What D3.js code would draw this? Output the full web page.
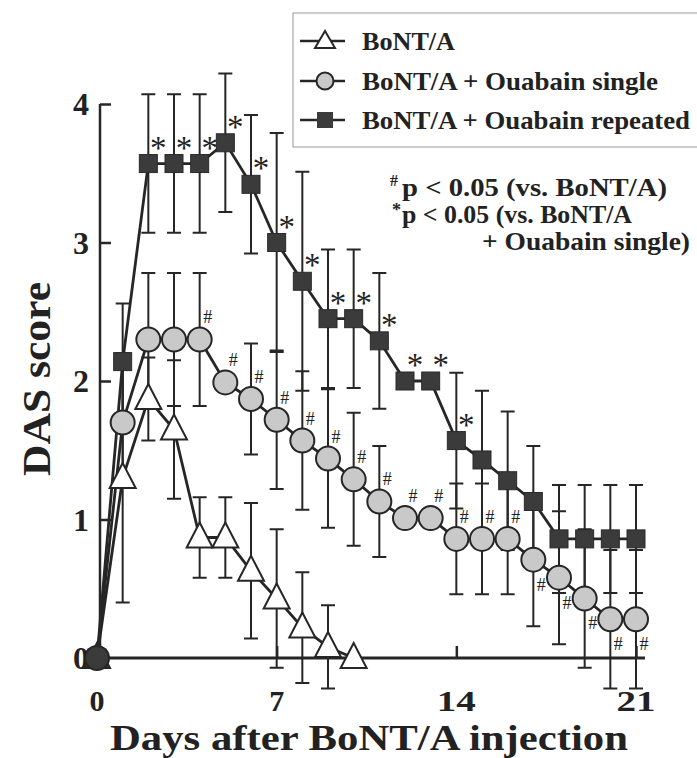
<!DOCTYPE html>
<html>
<head>
<meta charset="utf-8">
<script src="https://cdn.jsdelivr.net/npm/d3@7"></script>
<style>
  body { margin: 0; background: #fff; }
  svg text { font-family: "Liberation Serif", "Times New Roman", serif; fill: #222; }
  svg text.b { font-weight: bold; }
</style>
</head>
<body>
<script>
// days after injection
var days = [0, 1, 2, 3, 4, 5, 6, 7, 8, 9, 10, 11, 12, 13, 14, 15, 16, 17, 18, 19, 20, 21];
var xTicks = [0, 7, 14, 21];
var yTicks = [0, 1, 2, 3, 4];

// BoNT/A (days 0-10)
var bontA = [0, 1.3, 1.87, 1.65, 0.87, 0.87, 0.63, 0.43, 0.22, 0.08, 0];
var bontAErr = [0, 0.9, 0.3, 0.5, 0.29, 0.29, 0.49, 0.5, 0.4, 0.3, 0];

// BoNT/A + Ouabain single
var single = [0, 1.7, 2.3, 2.3, 2.3, 1.99, 1.87, 1.72, 1.57, 1.44, 1.29, 1.13, 1.01, 1.01, 0.86, 0.86, 0.86, 0.71, 0.58, 0.43, 0.28, 0.28];
var singleErr = [0, 0.4, 0.48, 0.48, 0.48, 0, 0.4, 0.5, 0.5, 0.5, 0.48, 0.4, 0, 0, 0.4, 0.4, 0.4, 0.48, 0.48, 0.5, 0.5, 0.5];

// BoNT/A + Ouabain repeated
var repeated = [0, 2.14, 3.57, 3.57, 3.57, 3.72, 3.42, 3.0, 2.72, 2.45, 2.45, 2.29, 2.0, 2.0, 1.57, 1.43, 1.28, 1.13, 0.86, 0.86, 0.86, 0.86];
var repeatedErr = [0, 0.42, 0.5, 0.5, 0.5, 0.5, 0.5, 0.79, 0.79, 0.5, 0.5, 0.49, 0, 0, 0.49, 0.5, 0.5, 0.4, 0.39, 0.39, 0.39, 0.39];

// significance marks
var hashDays = [4, 5, 6, 7, 8, 9, 10, 11, 12, 13, 14, 15, 16, 17, 18, 19, 20, 21];
var starDays = [2, 3, 4, 5, 6, 7, 8, 9, 10, 11, 12, 13, 14];

var legendLabels = ["BoNT/A", "BoNT/A + Ouabain single", "BoNT/A + Ouabain repeated"];
var legendWidths = [93, 296, 328];

var ink = "#262626";

var svg = d3.select("body").append("svg")
    .attr("width", 697)
    .attr("height", 758);

var x = d3.scaleLinear().domain([0, 21]).range([97, 636]);
var y = d3.scaleLinear().domain([0, 4]).range([658, 104]);

function toPoints(vals, errs) {
    return vals.map(function(v, i) { return {day: days[i], v: v, e: errs[i]}; });
}
var triData = toPoints(bontA, bontAErr);
var cirData = toPoints(single, singleErr);
var sqData = toPoints(repeated, repeatedErr);

//axes
var yAxis = d3.axisRight(y).tickValues(yTicks.slice(1)).tickSize(11).tickFormat("");
svg.append("g").attr("transform", "translate(100,0)").call(yAxis)
    .call(function(g) {
        g.select(".domain").attr("stroke", ink).attr("stroke-width", 2.5).attr("d", "M0," + y(0) + "V" + y(4));
        g.selectAll(".tick line").attr("stroke", ink).attr("stroke-width", 2.5);
    });

var xAxis = d3.axisTop(x).tickValues(xTicks.slice(1)).tickSize(12).tickFormat("");
svg.append("g").attr("transform", "translate(0," + y(0) + ")").call(xAxis)
    .call(function(g) {
        g.select(".domain").attr("stroke", ink).attr("stroke-width", 3).attr("d", "M" + x(0) + ",0H" + x(21.35));
        g.selectAll(".tick line").attr("stroke", ink).attr("stroke-width", 2.5);
    });

svg.selectAll(".ylab").data(yTicks).enter().append("text").attr("class", "b")
    .attr("x", 89).attr("y", function(d) { return y(d) + 11; })
    .attr("text-anchor", "end").attr("font-size", 32)
    .text(function(d) { return d; });

svg.selectAll(".xlab").data(xTicks).enter().append("text").attr("class", "b")
    .attr("x", function(d) { return x(d); }).attr("y", 711)
    .attr("text-anchor", "middle").attr("font-size", 30)
    .each(function(d) {
        if (String(d).length > 1) d3.select(this).attr("textLength", 39).attr("lengthAdjust", "spacingAndGlyphs");
    })
    .text(function(d) { return d; });

svg.append("text").attr("class", "b").attr("x", 110).attr("y", 750)
    .attr("font-size", 35).attr("textLength", 518).attr("lengthAdjust", "spacingAndGlyphs")
    .text("Days after BoNT/A injection");

svg.append("text").attr("class", "b").attr("transform", "translate(50,476) rotate(-90)")
    .attr("font-size", 40).attr("textLength", 194).attr("lengthAdjust", "spacingAndGlyphs")
    .text("DAS score");

//error bars
function drawErr(data) {
    var g = svg.append("g").attr("stroke", ink).attr("stroke-width", 2).attr("fill", "none");
    data.filter(function(d) { return d.e > 0; }).forEach(function(d) {
        var cx = x(d.day), y1 = y(d.v + d.e), y2 = y(d.v - d.e);
        g.append("path").attr("d", "M" + cx + "," + y1 + "V" + y2 +
            "M" + (cx - 7) + "," + y1 + "H" + (cx + 7) +
            "M" + (cx - 7) + "," + y2 + "H" + (cx + 7));
    });
}
drawErr(triData);
drawErr(cirData);
drawErr(sqData);

//lines
var line = d3.line().x(function(d) { return x(d.day); }).y(function(d) { return y(d.v); });
[triData, cirData, sqData].forEach(function(data) {
    svg.append("path").datum(data).attr("d", line)
        .attr("fill", "none").attr("stroke", ink).attr("stroke-width", 2.8);
});

//markers
function drawTri(g, cx, cy, fill) {
    g.append("path").attr("d", "M" + cx + "," + (cy - 15) + "L" + (cx + 13) + "," + (cy + 10) + "L" + (cx - 13) + "," + (cy + 10) + "Z")
        .attr("fill", fill).attr("stroke", ink).attr("stroke-width", 2);
}
function drawCir(g, cx, cy, fill) {
    g.append("circle").attr("cx", cx).attr("cy", cy).attr("r", 12)
        .attr("fill", fill).attr("stroke", ink).attr("stroke-width", 2);
}
function drawSq(g, cx, cy) {
    g.append("rect").attr("x", cx - 9).attr("y", cy - 9).attr("width", 18).attr("height", 18)
        .attr("fill", "#3b3b3b").attr("stroke", "#2a2a2a").attr("stroke-width", 1);
}

var mk = svg.append("g");
// at day 0 all three groups overlap into one dark blob
sqData.filter(function(d) { return d.day === 0; }).forEach(function(d) { drawSq(mk, x(d.day), y(d.v)); });
triData.forEach(function(d) { drawTri(mk, x(d.day), y(d.v), d.day === 0 ? "#3b3b3b" : "#fff"); });
cirData.forEach(function(d) { drawCir(mk, x(d.day), y(d.v), d.day === 0 ? "#3b3b3b" : "#c9c9c9"); });
sqData.filter(function(d) { return d.day > 0; }).forEach(function(d) { drawSq(mk, x(d.day), y(d.v)); });

//significance
svg.selectAll(".hash").data(hashDays).enter().append("text")
    .attr("x", function(d) { return x(d) + 8; })
    .attr("y", function(d) { return d >= 17 ? y(single[d]) + 31 : y(single[d]) - 16; })
    .attr("font-size", 18).attr("text-anchor", "middle")
    .text("#");

svg.selectAll(".star").data(starDays).enter().append("text")
    .attr("x", function(d) { return x(d) + 10; })
    .attr("y", function(d) { return y(repeated[d]) - 5; })
    .attr("font-size", 33).attr("text-anchor", "middle")
    .text("*");

//legend
var lg = svg.append("g");
lg.append("rect").attr("x", 293).attr("y", 13).attr("width", 420).attr("height", 134)
    .attr("fill", "#fff").attr("stroke", "#aaa").attr("stroke-width", 1.2);
var rowY = [41, 81, 120];
legendLabels.forEach(function(lbl, i) {
    lg.append("line").attr("x1", 300).attr("x2", 345).attr("y1", rowY[i]).attr("y2", rowY[i])
        .attr("stroke", ink).attr("stroke-width", 2.5);
    if (i === 0) {
        lg.append("path").attr("d", "M325," + (rowY[i] - 10) + "L335," + (rowY[i] + 7) + "L315," + (rowY[i] + 7) + "Z")
            .attr("fill", "#fff").attr("stroke", ink).attr("stroke-width", 2);
    } else if (i === 1) {
        lg.append("circle").attr("cx", 325).attr("cy", rowY[i]).attr("r", 8.5)
            .attr("fill", "#c9c9c9").attr("stroke", ink).attr("stroke-width", 2);
    } else {
        lg.append("rect").attr("x", 317).attr("y", rowY[i] - 8).attr("width", 16).attr("height", 16)
            .attr("fill", "#3b3b3b");
    }
    lg.append("text").attr("class", "b").attr("x", 362).attr("y", rowY[i] + 9).attr("font-size", 26)
        .attr("textLength", legendWidths[i]).attr("lengthAdjust", "spacingAndGlyphs").text(lbl);
});

//annotation
var an = svg.append("g");
an.append("text").attr("class", "b").attr("x", 390).attr("y", 186).attr("font-size", 16).text("#");
an.append("text").attr("class", "b").attr("x", 402).attr("y", 196).attr("font-size", 26)
    .attr("textLength", 265).attr("lengthAdjust", "spacingAndGlyphs").text("p < 0.05 (vs. BoNT/A)");
an.append("text").attr("class", "b").attr("x", 392).attr("y", 216).attr("font-size", 18).text("*");
an.append("text").attr("class", "b").attr("x", 402).attr("y", 223).attr("font-size", 26)
    .attr("textLength", 230).attr("lengthAdjust", "spacingAndGlyphs").text("p < 0.05 (vs. BoNT/A");
an.append("text").attr("class", "b").attr("x", 482).attr("y", 250).attr("font-size", 26)
    .attr("textLength", 208).attr("lengthAdjust", "spacingAndGlyphs").text("+ Ouabain single)");
</script>
</body>
</html>
